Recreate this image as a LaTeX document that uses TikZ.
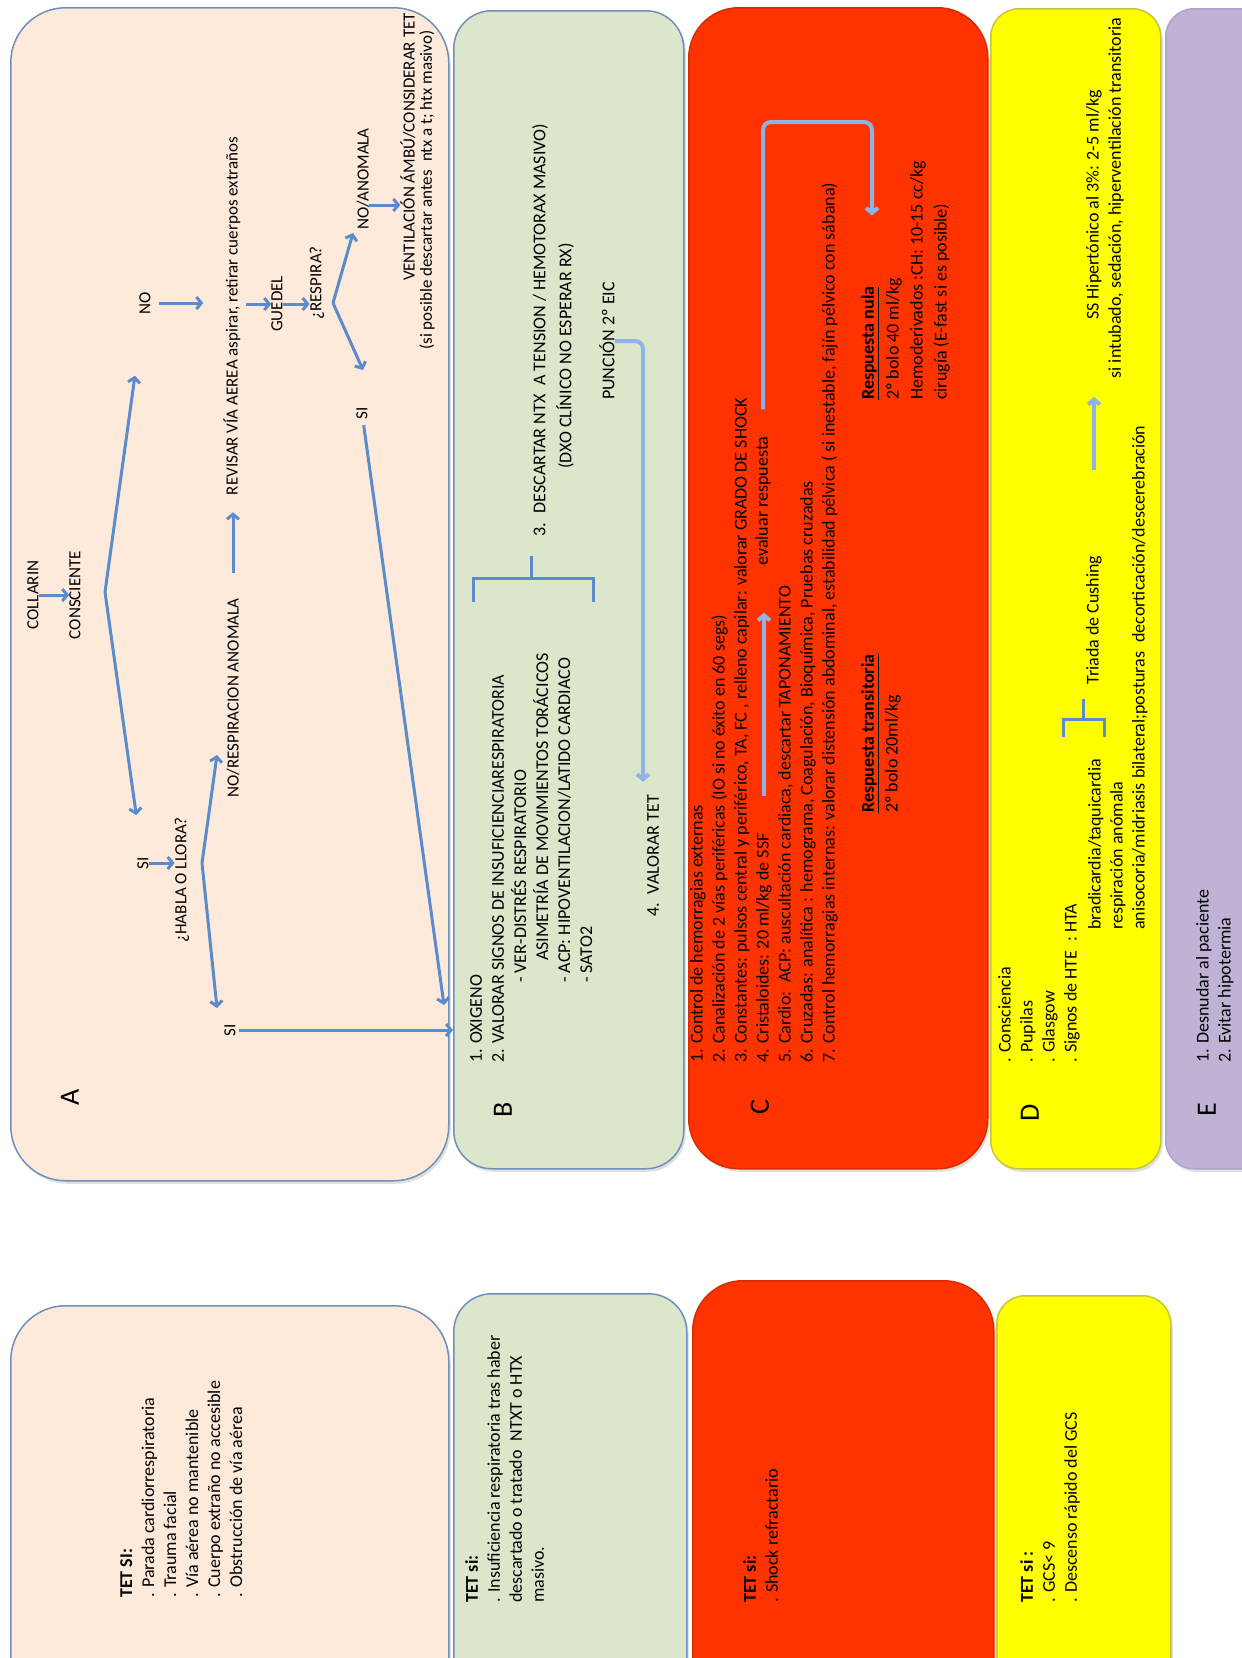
\documentclass[tikz,border=0pt]{standalone}
\usepackage{fontspec}
\setmainfont{Carlito}
\usetikzlibrary{arrows.meta,shadows}

\definecolor{peach}{HTML}{FDEADA}
\definecolor{sage}{HTML}{DCE6CA}
\definecolor{shock}{HTML}{FF3300}
\definecolor{neuro}{HTML}{FFFF00}
\definecolor{lilac}{HTML}{BFB2D5}
\definecolor{rim}{HTML}{6F8FBF}
\definecolor{flowblue}{HTML}{5B8BCB}
\definecolor{paleblue}{HTML}{8FB4E3}

\begin{document}
\begin{tikzpicture}[
    x=1pt, y=-1pt,
    panel/.style={
        draw=rim,
        line width=1.5pt,
        anchor=north west,
        inner sep=0pt,
        drop shadow={opacity=0.25, shadow xshift=2pt, shadow yshift=-3pt}
    },
    lbl/.style={
        rotate=90,
        inner sep=0pt,
        align=left,
        font=\fontsize{18}{22}\selectfont
    },
    flowlbl/.style={lbl, font=\fontsize{17}{22}\selectfont},
    letter/.style={
        rotate=90,
        inner sep=0pt,
        font=\fontsize{28}{28}\selectfont
    },
    flow/.style={draw=flowblue, line width=3pt,
        -{Straight Barb[length=5pt,width=12pt]}},
    pale/.style={draw=paleblue, line width=4pt,
        -{Straight Barb[length=5pt,width=12pt]}},
    brace/.style={draw=flowblue, line width=3pt}
]

\useasboundingbox (0,0) rectangle (1242,1658);
\clip (0,0) rectangle (1242,1658);

% --------------------------------------------------
% Panels
% --------------------------------------------------

\node[panel, fill=peach, rounded corners=55pt,
    minimum width=438pt, minimum height=1173pt] (boxA) at (10,7) {};
\node[panel, fill=peach, rounded corners=55pt,
    minimum width=438pt, minimum height=420pt] (tetboxA) at (10,1305) {};

\node[panel, fill=sage, rounded corners=38pt,
    minimum width=230pt, minimum height=1158pt] (boxB) at (453,10) {};
\node[panel, fill=sage, rounded corners=38pt,
    minimum width=233pt, minimum height=430pt] (tetboxB) at (453,1293) {};

\node[panel, draw=shock!85!black, fill=shock, rounded corners=50pt,
    minimum width=299pt, minimum height=1161pt] (boxC) at (688,7) {};
\node[panel, draw=shock!85!black, fill=shock, rounded corners=50pt,
    minimum width=301pt, minimum height=440pt] (tetboxC) at (692,1280) {};

\node[panel, draw=neuro!55!gray, fill=neuro, rounded corners=28pt,
    minimum width=170pt, minimum height=1160pt] (boxD) at (990,8) {};
\node[panel, draw=neuro!55!gray, fill=neuro, rounded corners=28pt,
    minimum width=174pt, minimum height=425pt] (tetboxD) at (996,1295) {};

\node[panel, draw=lilac!70!rim, fill=lilac, rounded corners=28pt,
    minimum width=135pt, minimum height=1160pt] (boxE) at (1165,8) {};

% --------------------------------------------------
% A: airway
% --------------------------------------------------

\node[letter] (labA) at (70,1097) {A};

\node[flowlbl] (collarin) at (33,595) {COLLARIN};
\node[flowlbl] (consc) at (75,595) {CONSCIENTE};
\coordinate (forkA) at (105,592);

\node[flowlbl] (noA) at (145,303) {NO};
\node[flowlbl] (siA) at (143,863) {SI};
\node[flowlbl] (habla) at (182,880) {¿HABLA O LLORA?};
\coordinate (forkB) at (202,863);
\coordinate (tipB1) at (217,755);
\coordinate (tipB2) at (217,1008);

\node[flowlbl] (noresp) at (233,698) {NO/RESPIRACION ANOMALA};
\node[flowlbl] (revisar) at (232,316)
    {REVISAR VÍA AEREA aspirar, retirar cuerpos extraños};
\node[flowlbl] (siB) at (230,1030) {SI};

\node[flowlbl] (guedel) at (277,304) {GUEDEL};
\node[flowlbl] (respira) at (317,283) {¿RESPIRA?};
\coordinate (forkC) at (333,303);
\coordinate (tipC1) at (353,233);
\coordinate (tipC2) at (363,370);

\node[flowlbl] (noanom) at (363,179) {NO/ANOMALA};
\node[flowlbl] (siC) at (362,413) {SI};
\coordinate (tipSI) at (444,1005);

\node[flowlbl] (vent) at (408,147) {VENTILACIÓN ÁMBÚ/CONSIDERAR TET};
\node[flowlbl] (ventnote) at (427,190)
    {(si posible descartar antes\enspace ntx a t; htx masivo)};

\draw[flow] (collarin) -- (collarin -| consc.north);
\draw[flow, shorten >=62pt] (forkA) -- (noA);
\draw[flow, shorten >=42pt] (forkA) -- (siA);
\draw[flow] (siA) -- (siA -| habla.north);
\draw[flow] (forkB) -- (tipB1);
\draw[flow] (forkB) -- (tipB2);
\draw[flow, shorten <=3pt] (siB) -- (siB -| boxB.west);
\draw[flow, shorten <=25pt, shorten >=17pt] (noresp.east) -- (noresp.east |- revisar.west);
\draw[flow, shorten <=8pt, shorten >=20pt] (noA) -- (noA -| revisar.north);
\draw[flow, shorten <=5pt] (guedel.north -| revisar.south) -- (guedel.north);
\draw[flow] (guedel) -- (guedel -| respira.north);
\draw[flow] (forkC) -- (tipC1);
\draw[flow] (forkC) -- (tipC2);
\draw[flow] ([yshift=-26pt]noanom.south) -- ([yshift=-26pt]noanom.south -| vent.north);
\draw[flow, shorten <=6pt] (siC) -- (tipSI);

% --------------------------------------------------
% B: breathing
% --------------------------------------------------

\node[letter] (labB) at (503,1110) {B};

\node[lbl, anchor=north west] (bsteps) at (470,1063)
    {1. OXIGENO\\2. VALORAR SIGNOS DE INSUFICIENCIARESPIRATORIA};
\node[lbl, anchor=north west] (bsigns) at (511,983)
    {- VER-DISTRÉS RESPIRATORIO\\
     \hspace*{22pt}ASIMETRÍA DE MOVIMIENTOS TORÁCICOS\\
     - ACP: HIPOVENTILACION/LATIDO CARDIACO\\
     - SATO2};

\draw[brace] (473,602) -- (473,578) -- (593,578) -- (593,602);
\draw[brace] (531,578) -- (531,556);

\node[lbl] (bdiscard) at (540,330)
    {3.\enspace DESCARTAR NTX\enspace A TENSION / HEMOTORAX MASIVO)};
\node[lbl] (bdxo) at (565,356) {(DXO CLÍNICO NO ESPERAR RX)};
\node[lbl] (bpunc) at (607,341) {PUNCIÓN 2º EIC};
\node[lbl] (btet) at (653,856) {4.\enspace VALORAR TET};

\draw[pale, rounded corners=8pt, shorten >=13pt]
    (bpunc.south) -| ([xshift=-10pt]btet.east);

% --------------------------------------------------
% C: circulation
% --------------------------------------------------

\node[letter] (labC) at (760,1107) {C};

\node[lbl, anchor=north west] (cfirst) at (690,1063)
    {1. Control de hemorragias externas\\
     2. Canalización de 2 vías periféricas (IO si no éxito en 60 segs)\\
     3. Constantes: pulsos central y periférico, TA, FC , relleno capilar: valorar GRADO DE SHOCK};
\node[lbl, anchor=north west] (ccris) at (756,1063)
    {4. Cristaloides: 20 ml/kg de SSF};
\node[lbl, anchor=north west] (crest) at (778,1063)
    {5. Cardio:\enspace ACP: auscultación cardiaca, descartar TAPONAMIENTO\\
     6. Cruzadas: analítica : hemograma, Coagulación, Bioquímica, Pruebas cruzadas\\
     7. Control hemorragias internas: valorar distensión abdominal, estabilidad pélvica ( si inestable, fajín pélvico con sábana)};

\node[lbl] (ceval) at (763,501) {evaluar respuesta};

\node[lbl, anchor=west] (cnula) at (870,400)
    {\textbf{\underline{Respuesta nula}}};
\node[lbl, anchor=north west, font=\fontsize{18}{24}\selectfont]
    (cnulatxt) at (886,400)
    {2º bolo 40 ml/kg\\Hemoderivados :CH: 10-15 cc/kg\\cirugía (E-fast si es posible)};

\node[lbl, anchor=west] (ctrans) at (870,813)
    {\textbf{\underline{Respuesta transitoria}}};
\node[lbl, anchor=west] (ctranstxt) at (893,813) {2º bolo 20ml/kg};

\coordinate (cturn) at (872,122);

\draw[pale, shorten <=37pt, shorten >=47pt]
    (ccris.east) -- (ccris.east |- ceval.west);
\draw[pale, rounded corners=8pt, shorten <=27pt, shorten >=71pt]
    (ceval.east) |- (cturn) -- (cturn |- cnula.east);

% --------------------------------------------------
% D: neurological
% --------------------------------------------------

\node[letter] (labD) at (1030,1113) {D};

\node[lbl, anchor=north west] (dsigns) at (998,1063)
    {. Consciencia\\. Pupilas\\. Glasgow\\. Signos de HTE\enspace: HTA};
\node[lbl, anchor=north west] (dhte) at (1088,930)
    {bradicardia/taquicardia\\
     respiración anómala\\
     anisocoria/midriasis bilateral;posturas\enspace decorticación/descerebración};

\draw[brace] (1063,737) -- (1063,719) -- (1104,719) -- (1104,737);
\draw[brace] (1083,719) -- (1083,699);

\node[lbl] (dcush) at (1094,620) {Triada de Cushing};
\node[lbl] (dss) at (1094,205) {SS Hipertónico al 3\%: 2-5 ml/kg};
\node[lbl] (dintub) at (1116,198)
    {si intubado, sedación, hiperventilación transitoria};

\draw[pale, shorten <=85pt, shorten >=77pt]
    (dcush.east) -- (dcush.east |- dss.west);

% --------------------------------------------------
% E: exposure
% --------------------------------------------------

\node[letter] (labE) at (1207,1110) {E};

\node[lbl, anchor=north west] (esteps) at (1196,1063)
    {1. Desnudar al paciente\\2. Evitar hipotermia};

% --------------------------------------------------
% TET criteria
% --------------------------------------------------

\node[lbl, anchor=north west] (tetA) at (120,1598)
    {\textbf{TET SI:}\\. Parada cardiorrespiratoria\\. Trauma facial\\
     . Vía aérea no mantenible\\. Cuerpo extraño no accesible\\
     . Obstrucción de vía aérea};

\node[lbl, anchor=north west] (tetB) at (465,1603)
    {\textbf{TET si:}\\. Insuficiencia respiratoria tras haber\\
     descartado o tratado\enspace NTXT o HTX\\masivo.};

\node[lbl, anchor=north west] (tetC) at (743,1603)
    {\textbf{TET si:}\\. Shock refractario};

\node[lbl, anchor=north west] (tetD) at (1020,1603)
    {\textbf{TET si :}\\. GCS< 9\\. Descenso rápido del GCS};

\end{tikzpicture}
\end{document}
